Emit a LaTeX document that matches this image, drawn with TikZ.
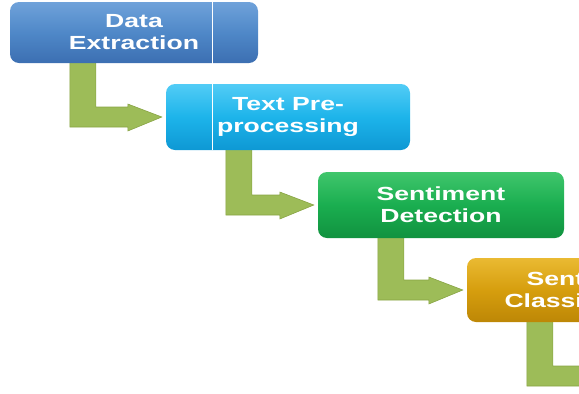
\documentclass[tikz,border=0pt]{standalone}
\usepackage{fontspec}
\newfontfamily\boxfont{Liberation Sans}[FakeStretch=1.40]
\usetikzlibrary{calc,backgrounds}
\definecolor{bluetop}{HTML}{6FA2DA}
\definecolor{bluemid}{HTML}{4F88C8}
\definecolor{bluebot}{HTML}{3C6FB2}
\definecolor{cyantop}{HTML}{52CCF6}
\definecolor{cyanmid}{HTML}{1DB4EA}
\definecolor{cyanbot}{HTML}{0E98D4}
\definecolor{greentop}{HTML}{40C66C}
\definecolor{greenmid}{HTML}{1AAE50}
\definecolor{greenbot}{HTML}{11923F}
\definecolor{goldtop}{HTML}{EABA32}
\definecolor{goldmid}{HTML}{D69E0E}
\definecolor{goldbot}{HTML}{BD8706}
\definecolor{olive}{HTML}{9DBC58}
\definecolor{olivedark}{HTML}{88A444}
\newcommand\stairarrow[2]{%
  \path[arrowshape] let \p1=(#1.south west), \p2=(#2) in
    (\x1+60pt,\y1+2pt) -- (\x1+86pt,\y1+2pt) -- (\x1+86pt,\y2+10pt)
    -- (\x2-38pt,\y2+10pt) -- (\x2-38pt,\y2+13pt) -- (\x2-4pt,\y2)
    -- (\x2-38pt,\y2-14pt) -- (\x2-38pt,\y2-10pt) -- (\x1+60pt,\y2-10pt) -- cycle;}
\begin{document}
\begin{tikzpicture}[x=1pt,y=-1pt,
  stage/.style={rounded corners=9pt, minimum height=66pt, minimum width=246pt,
    inner sep=0pt, text=white, align=center,
    font=\boxfont\bfseries\fontsize{19}{22}\selectfont},
  bluestage/.style={stage, top color=bluetop, bottom color=bluebot, middle color=bluemid},
  cyanstage/.style={stage, top color=cyantop, bottom color=cyanbot, middle color=cyanmid},
  greenstage/.style={stage, top color=greentop, bottom color=greenbot, middle color=greenmid},
  goldstage/.style={stage, top color=goldtop, bottom color=goldbot, middle color=goldmid},
  arrowshape/.style={fill=olive, draw=olivedark, line width=0.6pt, line join=miter}]
\useasboundingbox (0,0) rectangle (579,394);
\clip (0,0) rectangle (579,394);
% stage boxes
\node[bluestage, minimum width=248pt, minimum height=61pt] (b1) at (134,32.5) {Data\\Extraction};
\node[cyanstage, minimum width=244pt] (b2) at (288,117) {Text Pre-\\processing};
\node[greenstage] (b3) at (441,205) {Sentiment\\Detection};
\node[goldstage, minimum width=248pt, minimum height=64pt] (b4) at (591,290) {Sentiment\\Classification};
\coordinate (e4) at (650,376);
% connectors behind the boxes
\begin{pgfonlayer}{background}
\stairarrow{b1}{b2.west}
\stairarrow{b2}{b3.west}
\stairarrow{b3}{b4.west}
\stairarrow{b4}{e4}
\end{pgfonlayer}
\draw[white, line width=1pt] (212,0) -- (212,150);
\end{tikzpicture}
\end{document}
